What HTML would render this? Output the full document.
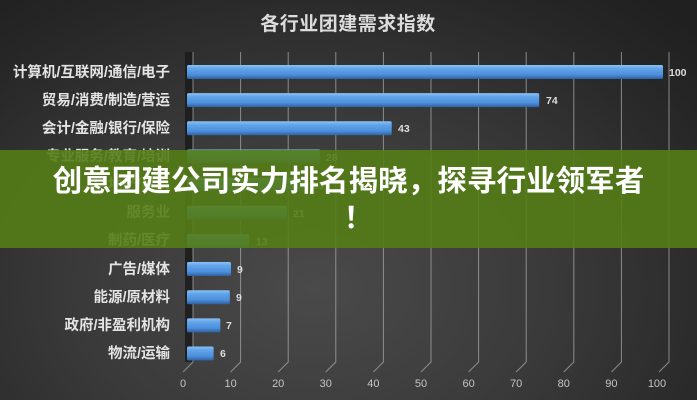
<!DOCTYPE html>
<html><head><meta charset="utf-8">
<style>
html,body{margin:0;padding:0;}
body{width:697px;height:400px;overflow:hidden;position:relative;
background:radial-gradient(ellipse 75% 95% at 45% 72%, #4a4a4a 0%, #3a3a3a 45%, #262626 85%, #202020 100%);
font-family:"Liberation Sans","Noto Sans CJK SC",sans-serif;}
svg{position:absolute;left:0;top:0;}
.banner{position:absolute;left:0;top:150px;width:697px;height:98px;background:rgba(84,124,22,0.9);}
.b1,.b2{position:absolute;left:0;width:697px;text-align:center;color:#fff;font-weight:bold;
font-size:29.6px;line-height:36px;font-family:"Liberation Sans","Noto Sans CJK SC",sans-serif;white-space:nowrap;}
.b1{top:164px;}
.b2{top:201px;left:10px;}
</style></head><body>
<svg width="697" height="400" viewBox="0 0 697 400" xmlns="http://www.w3.org/2000/svg">
<defs>
<linearGradient id="bar" x1="0" y1="0" x2="0" y2="1">
<stop offset="0" stop-color="#8cc2f5"/>
<stop offset="0.25" stop-color="#62a5ea"/>
<stop offset="0.7" stop-color="#4b8edb"/>
<stop offset="1" stop-color="#30609f"/>
</linearGradient>
</defs>
<text x="348" y="30" text-anchor="middle" font-size="19" font-weight="bold" fill="#dcdcdc" letter-spacing="0.5" font-family="Liberation Sans,Noto Sans CJK SC,sans-serif">各行业团建需求指数</text>
<rect x="185" y="52" width="8" height="310" fill="#1b1b1b" opacity="0.85"/>
<g stroke="#a8a8a8" stroke-width="1" fill="none" opacity="0.75">
<path d="M193 52V362L183 372"/>
<path d="M240.6 52V362L230.6 372"/>
<path d="M288.2 52V362L278.2 372"/>
<path d="M335.8 52V362L325.8 372"/>
<path d="M383.4 52V362L373.4 372"/>
<path d="M431 52V362L421 372"/>
<path d="M478.6 52V362L468.6 372"/>
<path d="M526.2 52V362L516.2 372"/>
<path d="M573.8 52V362L563.8 372"/>
<path d="M621.4 52V362L611.4 372"/>
<path d="M669 52V362L659 372"/>
</g>
<g font-size="11" fill="#c4c4c4" text-anchor="middle" font-family="Liberation Sans,sans-serif">
<text x="183" y="387">0</text>
<text x="230.6" y="387">10</text>
<text x="278.2" y="387">20</text>
<text x="325.8" y="387">30</text>
<text x="373.4" y="387">40</text>
<text x="421" y="387">50</text>
<text x="468.6" y="387">60</text>
<text x="516.2" y="387">70</text>
<text x="563.8" y="387">80</text>
<text x="611.4" y="387">90</text>
<text x="657" y="387">100</text>
</g>
<g>
<rect x="187" y="65" width="476" height="14" fill="url(#bar)" rx="1.5"/>
<rect x="187" y="93.15" width="352.2" height="14" fill="url(#bar)" rx="1.5"/>
<rect x="187" y="121.3" width="204.7" height="14" fill="url(#bar)" rx="1.5"/>
<rect x="187" y="149.45" width="133.3" height="14" fill="url(#bar)" rx="1.5"/>
<rect x="187" y="177.6" width="119" height="14" fill="url(#bar)" rx="1.5"/>
<rect x="187" y="205.75" width="100" height="14" fill="url(#bar)" rx="1.5"/>
<rect x="187" y="233.9" width="61.9" height="14" fill="url(#bar)" rx="1.5"/>
<rect x="187" y="262.05" width="44" height="14" fill="url(#bar)" rx="1.5"/>
<rect x="187" y="290.2" width="42.8" height="14" fill="url(#bar)" rx="1.5"/>
<rect x="187" y="318.35" width="33.3" height="14" fill="url(#bar)" rx="1.5"/>
<rect x="187" y="346.5" width="26.6" height="14" fill="url(#bar)" rx="1.5"/>
</g>
<g font-size="10.5" font-weight="bold" fill="#dddddd" font-family="Liberation Sans,sans-serif">
<text x="669" y="76">100</text>
<text x="546" y="104">74</text>
<text x="398" y="132">43</text>
<text x="326" y="161">28</text>
<text x="312" y="189">25</text>
<text x="293" y="217">21</text>
<text x="256" y="245">13</text>
<text x="237" y="273">9</text>
<text x="236" y="301">9</text>
<text x="226" y="329">7</text>
<text x="220" y="357">6</text>
</g>
<g font-size="14.5" font-weight="bold" fill="#e4e4e4" text-anchor="end" font-family="Liberation Sans,Noto Sans CJK SC,sans-serif">
<text x="170" y="77">计算机/互联网/通信/电子</text>
<text x="170" y="105">贸易/消费/制造/营运</text>
<text x="170" y="133">会计/金融/银行/保险</text>
<text x="170" y="161">专业服务/教育/培训</text>
<text x="170" y="189">房地产/建筑</text>
<text x="170" y="217">服务业</text>
<text x="170" y="245">制药/医疗</text>
<text x="170" y="274">广告/媒体</text>
<text x="170" y="302">能源/原材料</text>
<text x="170" y="330">政府/非盈利机构</text>
<text x="170" y="358">物流/运输</text>
</g>
</svg>
<div class="banner"></div>
<div class="b1">创意团建公司实力排名揭晓，探寻行业领军者</div>
<div class="b2">！</div>
</body></html>
